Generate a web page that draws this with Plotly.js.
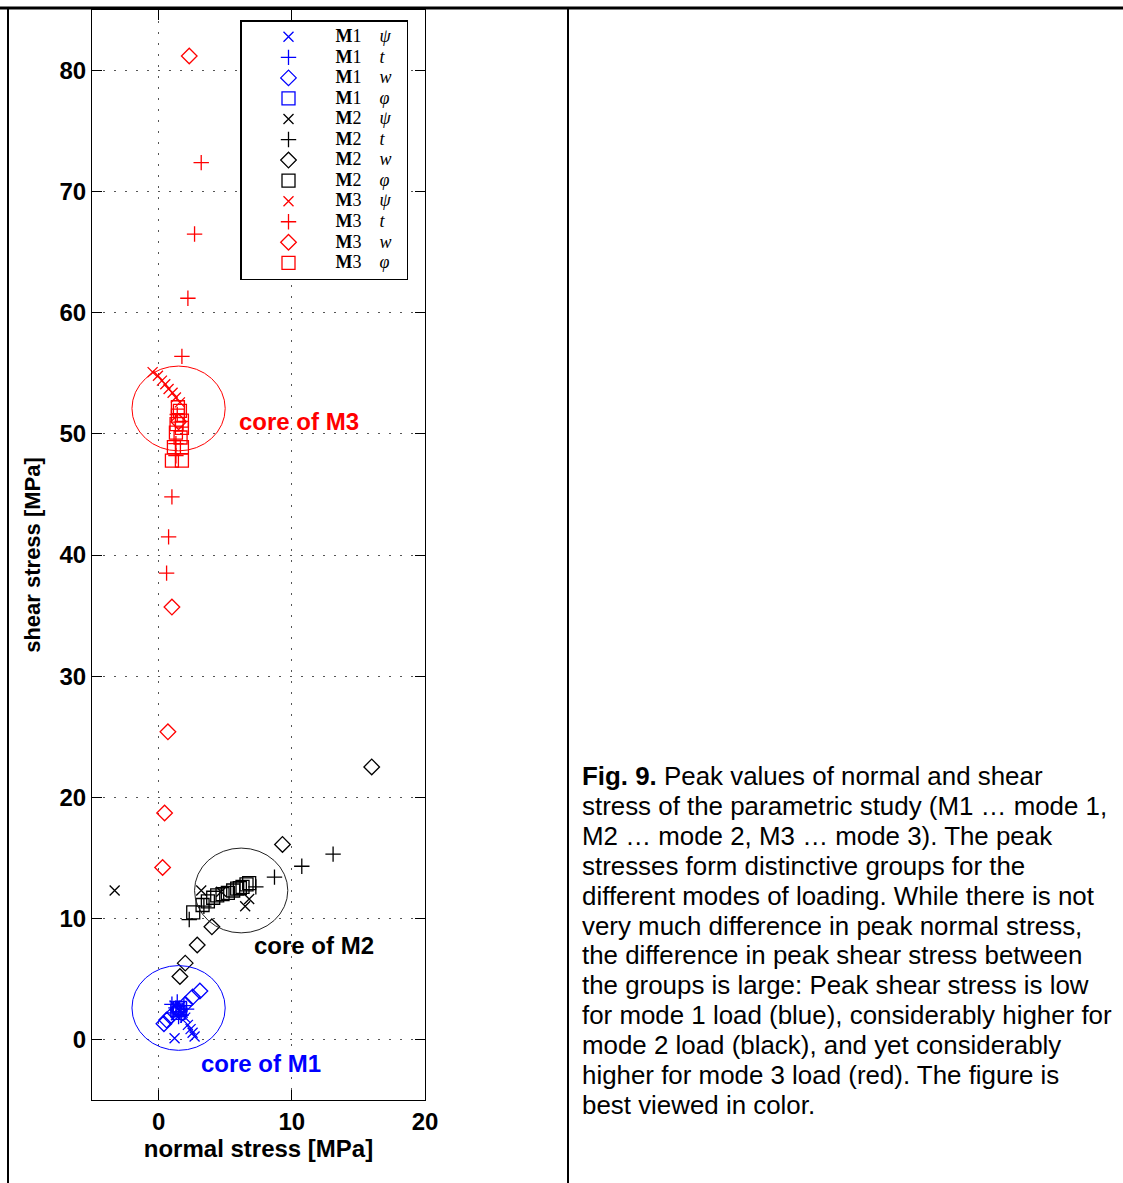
<!DOCTYPE html>
<html>
<head>
<meta charset="utf-8">
<script src="https://cdn.plot.ly/plotly-3.0.1.min.js"></script>
<style>html,body{margin:0;padding:0;background:#fff;}#chart{width:1123px;height:1183px;}</style>
</head>
<body>
<div id="chart"></div>
<script>
// ---------- data ----------
// Mode 1 (blue)
const m1PsiX = [1.2, 1.5, 1.8, 1.3, 1.6, 2.0, 2.2, 2.4, 2.55, 2.7, 1.2];
const m1PsiY = [2.8, 2.4, 2.2, 2.0, 2.7, 1.8, 1.2, 0.85, 0.55, 0.25, 0.1];
const m1TX = [1.0, 1.3, 1.6, 1.9, 1.4, 1.1, 1.7, 2.1, 1.5];
const m1TY = [2.9, 2.6, 2.3, 2.8, 3.1, 2.2, 2.0, 2.5, 1.9];
const m1WX = [3.1, 2.55, 2.0, 1.5, 0.9, 0.6, 0.4];
const m1WY = [4.0, 3.5, 2.9, 2.4, 1.9, 1.6, 1.3];
const m1PhiX = [1.4, 1.6, 1.5];
const m1PhiY = [2.4, 2.6, 2.2];
// Mode 2 (black)
const m2PsiX = [-3.3, 3.2, 4.7, 6.5, 6.8];
const m2PsiY = [12.3, 12.3, 12.2, 11.0, 11.6];
const m2TX = [13.1, 10.75, 8.7, 7.3, 2.3, 3.4];
const m2TY = [15.3, 14.3, 13.4, 12.6, 9.9, 11.0];
const m2WX = [16.0, 9.3, 4.0, 2.9, 2.0, 1.6];
const m2WY = [22.5, 16.1, 9.3, 7.8, 6.3, 5.2];
const m2PhiX = [2.6, 3.3, 3.7, 4.1, 4.4, 4.8, 5.2, 5.6, 5.9, 6.1, 6.3, 6.6, 6.8];
const m2PhiY = [10.5, 11.1, 11.4, 11.7, 11.9, 12.0, 12.1, 12.3, 12.45, 12.5, 12.6, 12.8, 12.9];
// Mode 3 (red)
const m3PsiX = [-0.45, -0.05, 0.25, 0.5, 0.75, 1.05, 1.3, 1.6];
const m3PsiY = [55.1, 54.8, 54.4, 54.1, 53.7, 53.4, 53.0, 52.6];
const m3TX = [3.2, 2.7, 2.2, 1.75, 1.4, 1.3, 1.3, 1.0, 0.75, 0.6];
const m3TY = [72.4, 66.5, 61.2, 56.4, 51.6, 49.2, 48.2, 44.8, 41.5, 38.5];
const m3WX = [2.3, 1.0, 0.7, 0.45, 0.3, 1.5];
const m3WY = [81.2, 35.7, 25.4, 18.7, 14.2, 51.0];
const m3PhiX = [1.45, 1.6, 1.45, 1.75, 1.35, 1.75, 1.3, 1.65, 1.15, 1.75, 1.0, 1.75];
const m3PhiY = [52.2, 51.9, 51.5, 51.1, 50.8, 50.5, 50.1, 49.7, 48.9, 48.9, 47.8, 47.8];

// cores
const coreNames = ['core of M1', 'core of M2', 'core of M3'];
const coreX = [1.5, 6.2, 1.5];
const coreY = [2.6, 12.3, 52.1];
const coreR = [3.5, 3.5, 3.5];
const coreLabelX = [3.0, 7.0, 5.9];
const coreLabelY = [-1.95, 7.75, 51.05];

const modes = ['M1', 'M2', 'M3'];
const modeColors = ['#0000ff', '#000000', '#ff0000'];
const quantities = ['ψ', 't', 'w', 'φ'];
const symbols = ['x-thin-open', 'cross-thin-open', 'diamond-open', 'square-open'];
const sizes = [10, 11, 12, 13];

const seriesX = [[m1PsiX, m1TX, m1WX, m1PhiX], [m2PsiX, m2TX, m2WX, m2PhiX], [m3PsiX, m3TX, m3WX, m3PhiX]];
const seriesY = [[m1PsiY, m1TY, m1WY, m1PhiY], [m2PsiY, m2TY, m2WY, m2PhiY], [m3PsiY, m3TY, m3WY, m3PhiY]];

const captionLines = [
  '<b>Fig. 9.</b> Peak values of normal and shear',
  'stress of the parametric study (M1 … mode 1,',
  'M2 … mode 2, M3 … mode 3). The peak',
  'stresses form distinctive groups for the',
  'different modes of loading. While there is not',
  'very much difference in peak normal stress,',
  'the difference in peak shear stress between',
  'the groups is large: Peak shear stress is low',
  'for mode 1 load (blue), considerably higher for',
  'mode 2 load (black), and yet considerably',
  'higher for mode 3 load (red). The figure is',
  'best viewed in color.'
];

// ---------- traces ----------
const traces = [];
for (let m = 0; m < 3; m++) {
  for (let q = 0; q < 4; q++) {
    traces.push({
      type: 'scatter', mode: 'markers',
      x: seriesX[m][q], y: seriesY[m][q],
      name: '<span style="font-size:18px"><b>M</b>' + modes[m].slice(1) + '\u00a0\u00a0\u00a0\u00a0<i>' + quantities[q] + '</i>\u00a0\u00a0</span>',
      marker: {symbol: symbols[q], size: sizes[q], color: modeColors[m], line: {color: modeColors[m], width: 1.3}},
      hoverinfo: 'x+y'
    });
  }
}

const sansB = {family: 'Liberation Sans, Arial, sans-serif', size: 24, color: '#000', weight: 'bold'};
const sansBv = Object.assign({}, sansB, {size: 22});

const shapes = [];
for (let i = 0; i < 3; i++) {
  shapes.push({type: 'circle', xref: 'x', yref: 'y',
    x0: coreX[i] - coreR[i], x1: coreX[i] + coreR[i],
    y0: coreY[i] - coreR[i], y1: coreY[i] + coreR[i],
    line: {color: i === 1 ? '#222' : modeColors[i], width: 1}});
}
// table frame (paper coords relative to plot area 92..425 x, 10..1100 y)
const px = v => (v - 92) / 333;
const py = v => (1100 - v) / 1090;
shapes.push({type: 'line', xref: 'paper', yref: 'paper', x0: px(0), x1: px(1123), y0: py(8), y1: py(8), line: {color: '#000', width: 3}});
shapes.push({type: 'line', xref: 'paper', yref: 'paper', x0: px(8), x1: px(8), y0: py(8), y1: py(1185), line: {color: '#000', width: 2}});
shapes.push({type: 'line', xref: 'paper', yref: 'paper', x0: px(568), x1: px(568), y0: py(8), y1: py(1185), line: {color: '#000', width: 2}});

const annotations = [];
for (let i = 0; i < 3; i++) {
  annotations.push({xref: 'x', yref: 'y', x: coreLabelX[i], y: coreLabelY[i], xanchor: 'left', yanchor: 'middle',
    text: coreNames[i], showarrow: false, font: Object.assign({}, sansB, {color: modeColors[i]})});
}
captionLines.forEach((line, i) => {
  annotations.push({xref: 'paper', yref: 'paper', x: px(580), y: py(776 + 29.9 * i), xanchor: 'left', yanchor: 'middle', align: 'left',
    showarrow: false, text: line,
    font: {family: 'Liberation Sans, Arial, sans-serif', size: 25.9, color: '#000'}});
});

const axisCommon = {
  showline: true, linecolor: '#000', linewidth: 1, mirror: 'ticks',
  ticks: 'inside', ticklen: 10, tickcolor: '#000', tickwidth: 1,
  showgrid: true, gridcolor: '#555', gridwidth: 1, griddash: '2px,9px',
  zeroline: false, tickfont: sansB
};

const layout = {
  width: 1123, height: 1183,
  margin: {l: 92, r: 698, t: 10, b: 83, pad: 0},
  paper_bgcolor: '#fff', plot_bgcolor: '#fff',
  showlegend: true,
  xaxis: Object.assign({}, axisCommon, {range: [-5, 20], dtick: 10, tick0: 0,
    title: {text: 'normal stress [MPa]', font: sansB, standoff: 4}}),
  yaxis: Object.assign({}, axisCommon, {range: [-5, 85], dtick: 10, tick0: 0,
    title: {text: 'shear stress [MPa]', font: sansBv, standoff: 12}}),
  legend: {x: px(240), y: py(20), xanchor: 'left', yanchor: 'top',
    bgcolor: '#fff', bordercolor: '#000', borderwidth: 1.5,
    font: {family: 'Liberation Serif, DejaVu Serif, serif', size: 13.5, color: '#000'},
    itemwidth: 84, tracegroupgap: 0},
  shapes: shapes,
  annotations: annotations
};

Plotly.newPlot('chart', traces, layout, {displayModeBar: false, staticPlot: true});
</script>
</body>
</html>
